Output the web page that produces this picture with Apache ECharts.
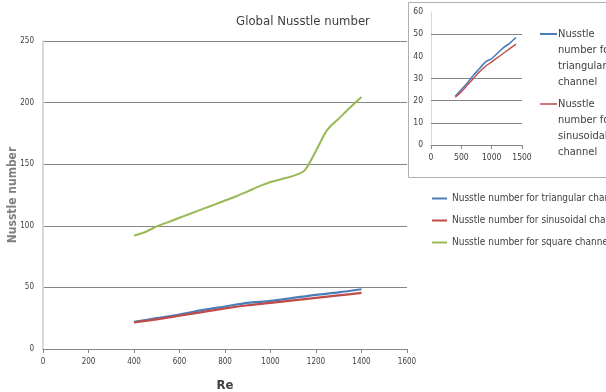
<!DOCTYPE html>
<html>
<head>
<meta charset="utf-8">
<script src="https://cdn.jsdelivr.net/npm/echarts@6/dist/echarts.min.js"></script>
<style>
html,body{margin:0;padding:0;background:#fff;}
#chart{width:606px;height:392px;}
</style>
</head>
<body>
<div id="chart"></div>
<script>
// ---- data ----
const titleText = 'Global Nusstle number';
const nameTri = 'Nusstle number for triangular channel';
const nameSin = 'Nusstle number for sinusoidal channel';
const nameSq = 'Nusstle number for square channel';

const reSq = [400,450,500,550,600,650,700,750,800,850,900,950,1000,1050,1100,1150,1200,1250,1300,1350,1400];
const nuSq = [92,95,99.5,103,106.5,110,113.5,117,120.5,124,128,132,135.5,138,140.5,145,161,178,187,196,204.5];

const reTS = [400,500,600,700,800,900,1000,1100,1200,1300,1400];
const nuTri = [22,25,28,31.5,34.5,37.5,39,41.5,44,46,48.5];
const nuSin = [21.5,24,27,30,33,35.5,37.5,39.5,41.5,43.5,45.5];

const insetGridValues = [10,20,30,50];

const FONT = "'DejaVu Sans Condensed','Liberation Sans Narrow','Liberation Sans',sans-serif";
const C_TRI = '#4a7ebb', C_SIN = '#be4b48', C_SQ = '#98b954';
const GRID_C = '#868686';

const pairs = (xs, ys) => xs.map((x, i) => [x, ys[i]]);

const chart = echarts.init(document.getElementById('chart'), null, {renderer: 'canvas'});

const insetLegendText = {
  [nameTri]: '{b|}{g|}Nusstle\n{s|}number for\n{s|}triangular\n{s|}channel',
  [nameSin]: '{r|}{g|}Nusstle\n{s|}number for\n{s|}sinusoidal\n{s|}channel'
};

const option = {
  backgroundColor: '#ffffff',
  animation: false,
  title: {
    text: titleText,
    left: 'center',
    top: 10,
    textStyle: {fontFamily: FONT, fontSize: 13, fontWeight: 'normal', color: '#404040'}
  },
  graphic: [{
    type: 'rect',
    z: -10,
    shape: {x: 408.5, y: 2.5, width: 210, height: 175},
    style: {fill: '#ffffff', stroke: '#b0b0b0', lineWidth: 1}
  }],
  legend: [{
    orient: 'vertical',
    left: 427,
    top: 187,
    icon: 'rect',
    itemWidth: 15,
    itemHeight: 2,
    itemGap: 9,
    data: [nameTri, nameSin, nameSq],
    textStyle: {fontFamily: FONT, fontSize: 10, color: '#404040', lineHeight: 13}
  }, {
    orient: 'vertical',
    left: 529,
    top: 21,
    icon: 'rect',
    itemWidth: 1,
    itemHeight: 1,
    itemGap: 6,
    data: [nameTri, nameSin],
    itemStyle: {opacity: 0},
    formatter: n => insetLegendText[n],
    textStyle: {
      fontFamily: FONT, fontSize: 11, color: '#404040', lineHeight: 16,
      rich: {
        b: {width: 17, height: 2, backgroundColor: C_TRI},
        r: {width: 17, height: 1.5, backgroundColor: C_SIN},
        g: {width: 1},
        s: {width: 18}
      }
    }
  }],
  grid: [
    {left: 43, right: 199, top: 41, bottom: 43, containLabel: false, outerBoundsMode: 'none'},
    {left: 431, top: 12, width: 91, height: 133, containLabel: false, outerBoundsMode: 'none'}
  ],
  xAxis: [{
    gridIndex: 0, type: 'value', min: 0, max: 1600, interval: 200,
    name: 'Re', nameLocation: 'middle', nameGap: 30,
    nameTextStyle: {fontFamily: FONT, fontSize: 13, fontWeight: 'bold', color: '#404040'},
    axisLine: {show: true, lineStyle: {color: GRID_C, width: 1}},
    axisTick: {show: true, length: 4, lineStyle: {color: GRID_C}},
    axisLabel: {fontFamily: FONT, fontSize: 8, color: '#404040', margin: 9, formatter: v => String(v)},
    splitLine: {show: false}
  }, {
    gridIndex: 1, type: 'value', min: 0, max: 1500, interval: 500,
    axisLine: {show: true, lineStyle: {color: GRID_C, width: 1}},
    axisTick: {show: true, length: 4, lineStyle: {color: GRID_C}},
    axisLabel: {fontFamily: FONT, fontSize: 8.5, color: '#404040', margin: 8, formatter: v => String(v)},
    splitLine: {show: false}
  }],
  yAxis: [{
    gridIndex: 0, type: 'value', min: 0, max: 250, interval: 50,
    name: 'Nusstle number', nameLocation: 'middle', nameGap: 24, nameMoveOverlap: false,
    nameTextStyle: {fontFamily: FONT, fontSize: 12, fontWeight: 'bold', color: '#7f7f7f'},
    axisLine: {show: true, lineStyle: {color: '#d9d9d9', width: 2}},
    axisTick: {show: false},
    axisLabel: {fontFamily: FONT, fontSize: 8, color: '#404040', margin: 9},
    splitLine: {show: true, lineStyle: {color: GRID_C, width: 1}}
  }, {
    gridIndex: 1, type: 'value', min: 0, max: 60, interval: 10,
    axisLine: {show: true, lineStyle: {color: '#d9d9d9', width: 1}},
    axisTick: {show: false},
    axisLabel: {fontFamily: FONT, fontSize: 8.5, margin: 8,
      color: v => (v === 60 ? '#a6a6a6' : '#404040')},
    splitLine: {show: false}
  }],
  series: [{
    name: nameTri, type: 'line', xAxisIndex: 0, yAxisIndex: 0,
    data: pairs(reTS, nuTri), symbol: 'none', smooth: 0.3, z: 3,
    lineStyle: {color: C_TRI, width: 2.2}, itemStyle: {color: C_TRI}
  }, {
    name: nameSin, type: 'line', xAxisIndex: 0, yAxisIndex: 0,
    data: pairs(reTS, nuSin), symbol: 'none', smooth: 0.3, z: 3,
    lineStyle: {color: C_SIN, width: 2.2}, itemStyle: {color: C_SIN}
  }, {
    name: nameSq, type: 'line', xAxisIndex: 0, yAxisIndex: 0,
    data: pairs(reSq, nuSq), symbol: 'none', smooth: 0.3, z: 3,
    lineStyle: {color: C_SQ, width: 2}, itemStyle: {color: C_SQ}
  }, {
    name: nameTri, type: 'line', xAxisIndex: 1, yAxisIndex: 1,
    data: pairs(reTS, nuTri), symbol: 'none', smooth: 0.3, z: 3,
    lineStyle: {color: C_TRI, width: 1.6}, itemStyle: {color: C_TRI},
    markLine: {
      silent: true, symbol: 'none', z: 1, label: {show: false},
      lineStyle: {color: GRID_C, type: 'solid', width: 1},
      data: insetGridValues.map(v => ({yAxis: v}))
    }
  }, {
    name: nameSin, type: 'line', xAxisIndex: 1, yAxisIndex: 1,
    data: pairs(reTS, nuSin), symbol: 'none', smooth: 0.3, z: 3,
    lineStyle: {color: C_SIN, width: 1.4}, itemStyle: {color: C_SIN}
  }]
};
chart.setOption(option);
</script>
</body>
</html>
